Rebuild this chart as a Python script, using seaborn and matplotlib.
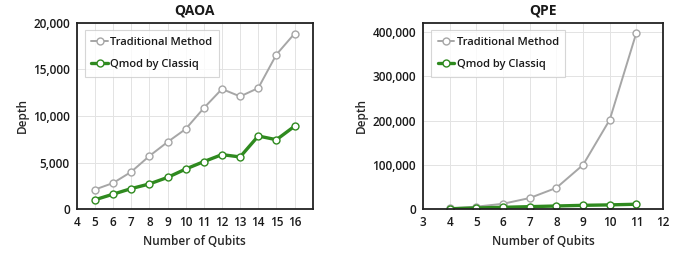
import numpy as np
import pandas as pd
import matplotlib
matplotlib.use("Agg")
import matplotlib.pyplot as plt
import seaborn as sns
from matplotlib.ticker import FuncFormatter

# QAOA data
qaoa_qubits = [5, 6, 7, 8, 9, 10, 11, 12, 13, 14, 15, 16]
qaoa_traditional = [2100, 2800, 4000, 5700, 7200, 8600, 10850, 12900, 12100, 13000, 16600, 18850]
qaoa_qmod = [1000, 1600, 2200, 2700, 3400, 4300, 5100, 5850, 5600, 7850, 7450, 8900]

# QPE data
qpe_qubits = [4, 5, 6, 7, 8, 9, 10, 11]
qpe_traditional = [1500, 5500, 12000, 25000, 48000, 100000, 202000, 399000]
qpe_qmod = [800, 2500, 4000, 5500, 7000, 8500, 9500, 11000]

series_names = ["Traditional Method", "Qmod by Classiq"]

sns.set_style("whitegrid")
plt.rcParams['font.family'] = ['Open Sans', 'DejaVu Sans']
plt.rcParams['text.color'] = '#1a1a1a'

GRAY = '#a6a6a6'
GREEN = '#2f8a1f'

fig = plt.figure(figsize=(6.98, 2.63), dpi=100)
ax1 = fig.add_axes([0.110, 0.205, 0.338, 0.708])
ax2 = fig.add_axes([0.606, 0.205, 0.344, 0.708])


def draw(ax, qubits, trad, qmod, title, xlim, ylim, yticks):
    df = pd.DataFrame({"Qubits": qubits, series_names[0]: trad, series_names[1]: qmod})
    sns.lineplot(data=df, x="Qubits", y=series_names[0], ax=ax, color=GRAY, lw=1.4,
                 marker='o', markersize=5, markerfacecolor='white', markeredgecolor=GRAY,
                 markeredgewidth=1.0, label=series_names[0])
    sns.lineplot(data=df, x="Qubits", y=series_names[1], ax=ax, color=GREEN, lw=2.4,
                 marker='o', markersize=5, markerfacecolor='white', markeredgecolor=GREEN,
                 markeredgewidth=1.0, label=series_names[1])
    ax.set_xlim(*xlim)
    ax.set_ylim(*ylim)
    ax.set_yticks(yticks)
    ax.yaxis.set_major_formatter(FuncFormatter(lambda v, p: f"{int(v):,}"))
    ax.grid(True, color='#e3e3e3', lw=0.7)
    for s in ax.spines.values():
        s.set_color('#222222')
        s.set_linewidth(1.3)
    ax.tick_params(axis='both', labelsize=8.5, length=3, color='#222222', pad=2,
                   labelcolor='#1a1a1a')
    for lab in ax.get_xticklabels() + ax.get_yticklabels():
        lab.set_fontweight('semibold')
    ax.set_title(title, fontsize=10, fontweight='bold', pad=6)
    ax.set_xlabel("Number of Qubits", fontsize=8.5, fontweight='semibold', labelpad=4)
    ax.set_ylabel("Depth", fontsize=8.5, fontweight='semibold', labelpad=3)
    leg = ax.legend(loc='upper left', prop={'size': 8, 'weight': 'semibold'},
                    frameon=True, fancybox=False,
                    borderpad=0.6, labelspacing=1.0, handlelength=1.5, handletextpad=0.2,
                    bbox_to_anchor=(0.01, 0.99))
    leg.get_frame().set_edgecolor('#cccccc')
    leg.get_frame().set_linewidth(0.8)


draw(ax1, qaoa_qubits, qaoa_traditional, qaoa_qmod, "QAOA", (4, 17), (0, 20000),
     [0, 5000, 10000, 15000, 20000])
ax1.set_xticks(range(4, 17))
ax1.set_xticklabels([str(v) for v in range(4, 17)], fontweight='semibold')
draw(ax2, qpe_qubits, qpe_traditional, qpe_qmod, "QPE", (3, 12), (0, 421000),
     [0, 100000, 200000, 300000, 400000])
ax2.set_xticks(range(3, 13))
ax2.set_xticklabels([str(v) for v in range(3, 13)], fontweight='semibold')

fig.savefig("out.png", dpi=100)
